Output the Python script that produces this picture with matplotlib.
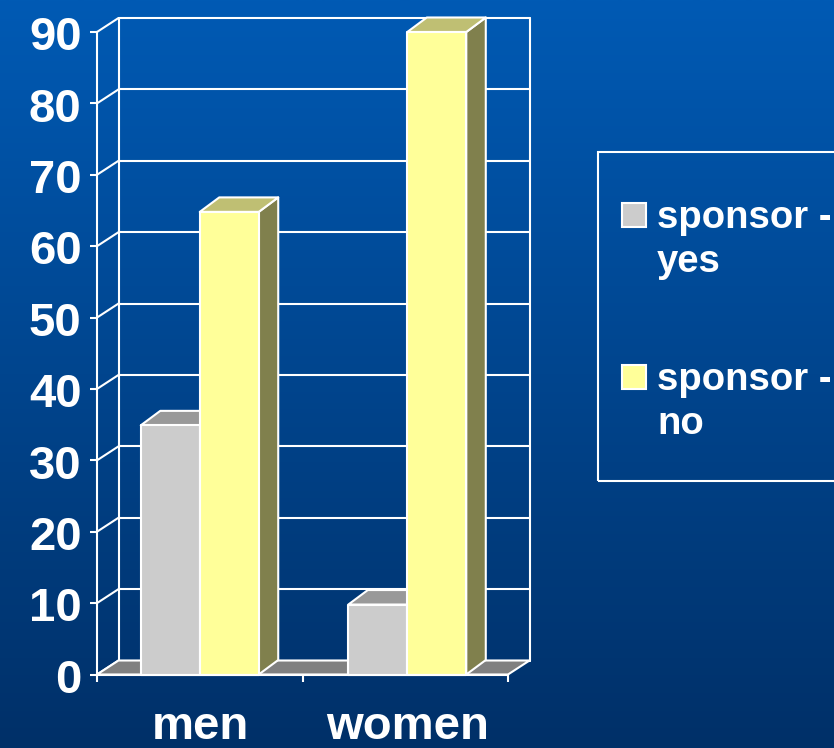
import numpy as np
import matplotlib
matplotlib.use("Agg")
import matplotlib.pyplot as plt
from matplotlib.colors import LinearSegmentedColormap
from matplotlib.patches import Polygon, Rectangle
from matplotlib.transforms import ScaledTranslation

categories = ["men", "women"]
sponsor_yes = [34.9, 9.8]
sponsor_no = [64.8, 90]
y_ticks = [0, 10, 20, 30, 40, 50, 60, 70, 80, 90]
legend_labels = [["sponsor -", "yes"], ["sponsor -", "no"]]

W, H = 834, 748
plt.rcParams["font.family"] = ["Liberation Sans", "DejaVu Sans"]
plt.rcParams["font.weight"] = "bold"
LW = 1.5
WHITE = "#FFFFFF"

fig = plt.figure(figsize=(W / 100, H / 100), dpi=100)

# Background gradient
bg = fig.add_axes([0, 0, 1, 1], zorder=0)
bg.axis("off")
cmap = LinearSegmentedColormap.from_list("bg", ["#005AB4", "#003068"])
bg.imshow(np.linspace(0, 1, 256)[:, None], aspect="auto", cmap=cmap, extent=[0, 1, 0, 1])

# Plot axes (front plane of the pseudo-3D chart)
L, R, B, T = 97, 508, 674.5, 32
ax = fig.add_axes([L / W, 1 - B / H, (R - L) / W, (B - T) / H], zorder=1)
ax.patch.set_alpha(0)
ax.set_xlim(0, 2)
ax.set_ylim(0, 90)
for s in ("top", "right"):
    ax.spines[s].set_visible(False)
for s in ("left", "bottom"):
    ax.spines[s].set_color(WHITE)
    ax.spines[s].set_linewidth(LW)
    ax.spines[s].set_zorder(6)

DX = 21.5 / (R - L) * 2     # wall depth in category units
DY = 14 / (B - T) * 90      # wall depth in value units
BDX = 19.5 / (R - L) * 2    # bar depth in category units
BDY = 14.5 / (B - T) * 90   # bar depth in value units

ax.set_yticks(y_ticks)
ax.set_xticks([0, 1, 2])
ax.set_xticklabels([])
centers = [0.5, 1.51]
label_pos = [0.503, 1.513]
ax.set_xticks(label_pos, categories, minor=True)
ax.tick_params(axis="both", which="major", color=WHITE, width=LW, length=5)
ax.tick_params(axis="x", which="minor", length=0, pad=22, labelsize=34, labelcolor=WHITE)
ax.tick_params(axis="y", which="major", labelsize=34, labelcolor=WHITE, pad=6)
for lab in ax.get_yticklabels():
    lab.set_transform(lab.get_transform() + ScaledTranslation(0, -1.2 / 100, fig.dpi_scale_trans))

line = dict(color=WHITE, lw=LW, clip_on=False, solid_capstyle="round")
# Back wall, side wall and gridlines
for v in y_ticks:
    ax.plot([DX, 2 + DX], [v + DY, v + DY], zorder=1, **line)
    ax.plot([0, DX], [v, v + DY], zorder=1, **line)
ax.plot([DX, DX], [DY, 90 + DY], zorder=1, **line)
ax.plot([2 + DX, 2 + DX], [DY, 90 + DY], zorder=1, **line)
# Floor
ax.add_patch(Polygon([(0, 0), (2, 0), (2 + DX, DY), (DX, DY)], closed=True,
                     fc="#808080", ec=WHITE, lw=LW, zorder=2, clip_on=False))


def bar3d(x0, x1, v, front, top, side, z):
    kw = dict(closed=True, ec=WHITE, lw=LW, clip_on=False, joinstyle="round", zorder=z)
    ax.add_patch(Polygon([(x1, 0), (x1 + BDX, BDY), (x1 + BDX, v + BDY), (x1, v)], fc=side, **kw))
    ax.add_patch(Polygon([(x0, v), (x1, v), (x1 + BDX, v + BDY), (x0 + BDX, v + BDY)], fc=top, **kw))
    ax.add_patch(Polygon([(x0, 0), (x1, 0), (x1, v), (x0, v)], fc=front, **kw))


BW = 0.287
for c, yes, no in zip(centers, sponsor_yes, sponsor_no):
    bar3d(c - BW, c, yes, "#CCCCCC", "#999999", "#666666", 3)
    bar3d(c, c + BW, no, "#FFFF99", "#BFBF73", "#80804D", 4)

# Legend, drawn on the figure in pixel coordinates (runs past the right edge)
def px(x, y):
    return x / W, 1 - y / H


fig.add_artist(Rectangle(px(598, 481), 260 / W, (481 - 152) / H, transform=fig.transFigure,
                         fc="none", ec=WHITE, lw=LW, zorder=3))
swatch_y = [215, 377]
swatch_c = ["#CCCCCC", "#FFFF99"]
for ys, col, lines in zip(swatch_y, swatch_c, legend_labels):
    fig.add_artist(Rectangle(px(622, ys + 12), 24 / W, 24 / H, transform=fig.transFigure,
                             fc=col, ec=WHITE, lw=LW, zorder=3))
    for i, t in enumerate(lines):
        fig.text(*px(657, ys + 3 + i * 44), t, color=WHITE, fontsize=27.5, fontweight="bold",
                 ha="left", va="center", zorder=4)

fig.savefig("out.png", dpi=100)
